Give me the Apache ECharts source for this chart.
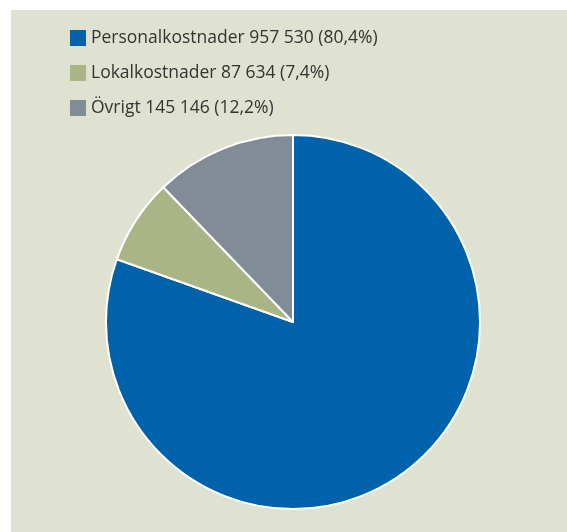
<!DOCTYPE html>
<html>
<head>
<meta charset="utf-8">
<script src="https://cdn.jsdelivr.net/npm/echarts@6/dist/echarts.min.js"></script>
<style>
  html, body { margin: 0; padding: 0; background: #ffffff; }
  #chart { width: 567px; height: 532px; }
</style>
</head>
<body>
<div id="chart"></div>
<script>
// kostnadsfördelning
var names = ['Personalkostnader', 'Lokalkostnader', 'Övrigt'];
var values = [957530, 87634, 145146];
var valueLabels = ['957 530', '87 634', '145 146'];
var percentLabels = ['80,4%', '7,4%', '12,2%'];
var colors = ['#0062ab', '#aab585', '#818c96'];

var myChart = echarts.init(document.getElementById('chart'));

var pieData = names.map(function (n, i) {
    return { name: n, value: values[i], itemStyle: { color: colors[i] } };
});

var option = {
    backgroundColor: '#ffffff',
    animation: false,
    graphic: [
        {
            type: 'rect',
            z: -10,
            shape: { x: 11, y: 10, width: 556, height: 522 },
            style: { fill: '#e0e2d1' }
        }
    ],
    legend: {
        orient: 'vertical',
        left: 70,
        top: 29,
        padding: 0,
        icon: 'rect',
        itemWidth: 16,
        itemHeight: 16,
        itemGap: 17,
        itemStyle: { borderWidth: 0 },
        data: names,
        formatter: function (name) {
            var i = names.indexOf(name);
            return name + ' ' + valueLabels[i] + ' (' + percentLabels[i] + ')';
        },
        textStyle: {
            color: '#333333',
            fontFamily: 'Open Sans',
            fontSize: 17.5,
            lineHeight: 16,
            padding: [0, 0, 0, 0]
        }
    },
    series: [
        {
            type: 'pie',
            center: [293, 322],
            radius: 187,
            startAngle: 90,
            clockwise: true,
            label: { show: false },
            labelLine: { show: false },
            emphasis: { disabled: true },
            itemStyle: { borderColor: '#ffffff', borderWidth: 2 },
            data: pieData
        }
    ]
};

myChart.setOption(option);
</script>
</body>
</html>
